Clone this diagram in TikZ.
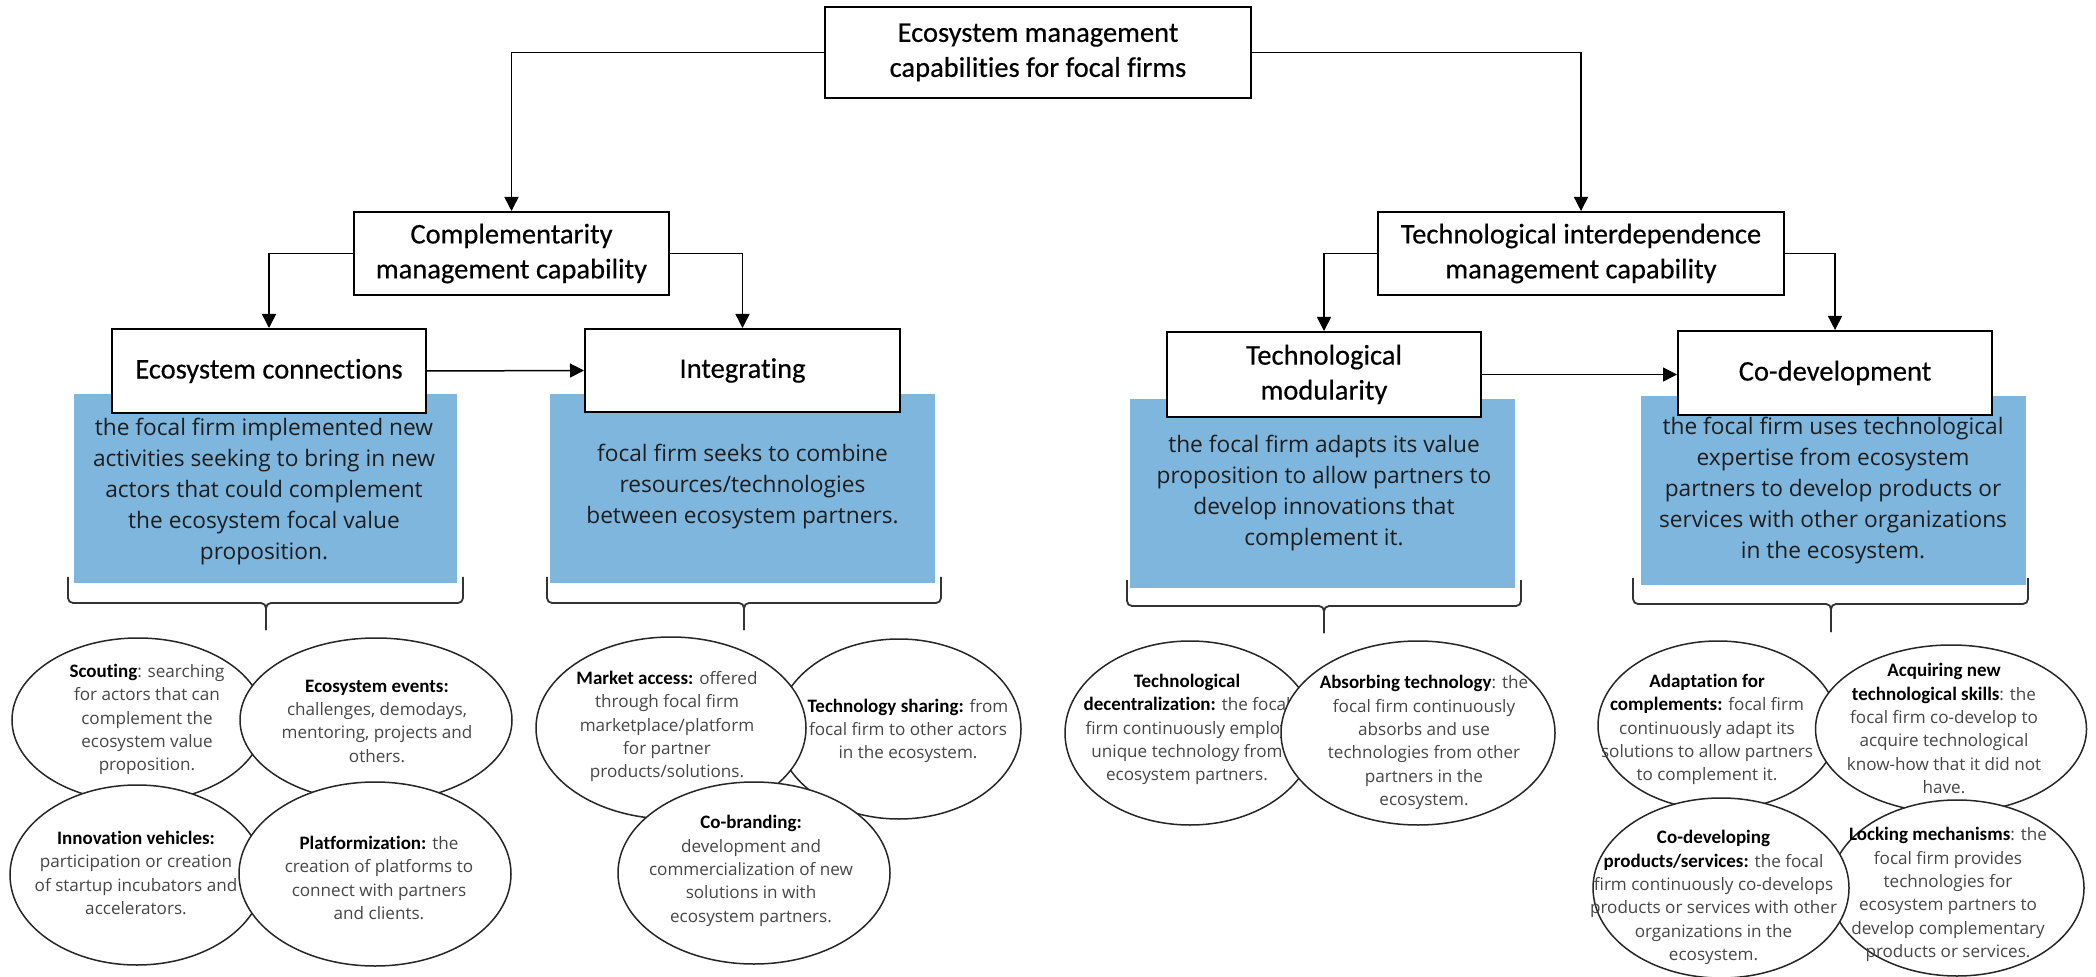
\documentclass[tikz,border=0pt]{standalone}
\usepackage{fontspec}
\setmainfont{Carlito}[Ligatures=NoCommon]
\newfontfamily\bodyfam{Open Sans}[Ligatures=NoCommon]
\newfontfamily\headfam{Carlito}[Ligatures=NoCommon,FakeBold=0.4]
\usetikzlibrary{arrows.meta,shapes.geometric}
\definecolor{panelblue}{RGB}{127,182,221}
\definecolor{bodygray}{RGB}{70,70,70}
\definecolor{paneltext}{RGB}{30,30,30}
% bold Calibri-like lead-in inside the bubbles
\newcommand{\lab}[1]{{\rmfamily\bfseries\fontsize{9.5pt}{11.67pt}\selectfont\color{black}#1}}

\begin{document}
\begin{tikzpicture}[x=0.5pt, y=-0.5pt,
  titlebox/.style={draw=black, line width=1pt, fill=white, inner sep=0pt, align=center,
    font=\headfam\fontsize{14.25pt}{17.5pt}\selectfont},
  panel/.style={fill=panelblue, draw=none, inner sep=0pt},
  paneltxt/.style={align=center, inner sep=0pt, text=paneltext,
    font=\bodyfam\fontsize{11.35pt}{15.5pt}\selectfont},
  conn/.style={draw=black, line width=0.75pt, -{Triangle[length=7pt,width=7pt]}},
  bracket/.style={draw=black!80, line width=0.9pt, rounded corners=2.5pt},
  bubble/.style={ellipse, draw=black!85, line width=0.75pt, fill=white, inner sep=0pt},
  bubtxt/.style={align=center, inner sep=0pt, text=bodygray,
    font=\bodyfam\fontsize{8.55pt}{11.67pt}\selectfont}]

\useasboundingbox (0,0) rectangle (2096,977);

% blue description panels (behind the capability boxes)
\node[panel, minimum width=191.5pt, minimum height=94.5pt] (p1) at (265.5,488.5) {};
\node[panel, minimum width=192.5pt, minimum height=94.5pt] (p2) at (742.5,488.5) {};
\node[panel, minimum width=192.5pt, minimum height=94.5pt] (p3) at (1322.5,493.5) {};
\node[panel, minimum width=192.5pt, minimum height=94.5pt] (p4) at (1833.5,490.5) {};

\node[paneltxt] (t1) at (264,492) {the focal firm implemented new\\activities seeking to bring in new\\actors that could complement\\the ecosystem focal value\\proposition.};
\node[paneltxt] (t2) at (742.5,487) {focal firm seeks to combine\\resources/technologies\\between ecosystem partners.};
\node[paneltxt] (t3) at (1324,493) {the focal firm adapts its value\\proposition to allow partners to\\develop innovations that\\complement it.};
\node[paneltxt] (t4) at (1833,491) {the focal firm uses technological\\expertise from ecosystem\\partners to develop products or\\services with other organizations\\in the ecosystem.};

% capability boxes
\node[titlebox, minimum width=213pt, minimum height=45.5pt] (top) at (1038,52.5) {Ecosystem management\\capabilities for focal firms};
\node[titlebox, minimum width=157.5pt, minimum height=41.5pt] (comp) at (511.5,253.5) {Complementarity\\management capability};
\node[titlebox, minimum width=203pt, minimum height=41.5pt] (tech) at (1581,253.5) {Technological interdependence\\management capability};
\node[titlebox, minimum width=157pt, minimum height=42pt] (econ) at (269,371) {Ecosystem connections};
\node[titlebox, minimum width=157.5pt, minimum height=41.5pt] (integ) at (742.5,370.5) {Integrating};
\node[titlebox, minimum width=157pt, minimum height=42.5pt] (modu) at (1324,374.5) {Technological\\modularity};
\node[titlebox, minimum width=157pt, minimum height=42pt] (codev) at (1835,373) {Co-development};

% hierarchy connectors
\draw[conn] (top.west) -| (comp.north);
\draw[conn] (top.east) -| (tech.north);
\draw[conn] (comp.west) -| (econ.north);
\draw[conn] (comp.east) -| (integ.north);
\draw[conn] (tech.west) -| (modu.north);
\draw[conn] (tech.east) -| (codev.north);
\draw[conn] (econ.east) -- (integ.west);
\draw[conn] (modu.east) -- (modu.east -| codev.west);

% braces under the panels
\draw[bracket] (68,577) |- (266,603) -- (266,630);
\draw[bracket] (463,577) |- (266,603) -- (266,630);
\draw[bracket] (547,577) |- (744,603) -- (744,630);
\draw[bracket] (941,577) |- (744,603) -- (744,630);
\draw[bracket] (1127,580) |- (1324,606) -- (1324,633);
\draw[bracket] (1521,580) |- (1324,606) -- (1324,633);
\draw[bracket] (1633,578) |- (1831,604) -- (1831,632);
\draw[bracket] (2028,578) |- (1831,604) -- (1831,632);

% ecosystem connections bubbles
\node[bubble, minimum width=126pt, minimum height=82pt] (sc) at (138,720) {};
\node[bubtxt] (sct) at (147,719.5) {\lab{Scouting}: searching\\for actors that can\\complement the\\ecosystem value\\proposition.};
\node[bubble, minimum width=136pt, minimum height=82pt] (ee) at (376,720) {};
\node[bubtxt] (eet) at (377,721) {\lab{Ecosystem events:}\\challenges, demodays,\\mentoring, projects and\\others.};
\node[bubble, minimum width=127pt, minimum height=90pt] (iv) at (137,875) {};
\node[bubtxt] (ivt) at (136,873) {\lab{Innovation vehicles:}\\participation or creation\\of startup incubators and\\accelerators.};
\node[bubble, minimum width=136pt, minimum height=92pt] (pl) at (375,874) {};
\node[bubtxt] (plt) at (379,878) {\lab{Platformization:} the\\creation of platforms to\\connect with partners\\and clients.};

% integrating bubbles
\node[bubble, minimum width=122pt, minimum height=90pt] (ts) at (899,729) {};
\node[bubtxt] (tst) at (908,731) {\lab{Technology sharing:} from\\focal firm to other actors\\in the ecosystem.};
\node[bubble, minimum width=135pt, minimum height=91pt] (ma) at (671,728) {};
\node[bubtxt] (mat) at (667,726.5) {\lab{Market access:} offered\\through focal firm\\marketplace/platform\\for partner\\products/solutions.};
\node[bubble, minimum width=136pt, minimum height=91pt] (cb) at (754,873) {};
\node[bubtxt] (cbt) at (751,871) {\lab{Co-branding:}\\development and\\commercialization of new\\solutions in with\\ecosystem partners.};

% technological modularity bubbles
\node[bubble, minimum width=125pt, minimum height=92pt] (td) at (1190,733) {};
\node[bubtxt] (tdt) at (1187,729.5) {\lab{Technological}\\\lab{decentralization:} the focal\\firm continuously employ\\unique technology from\\ecosystem partners.};
\node[bubble, minimum width=137pt, minimum height=92pt] (at) at (1418,733) {};
\node[bubtxt] (att) at (1424,742.5) {\lab{Absorbing technology}: the\\focal firm continuously\\absorbs and use\\technologies from other\\partners in the\\ecosystem.};

% co-development bubbles
\node[bubble, minimum width=120pt, minimum height=84.5pt] (af) at (1718,725.5) {};
\node[bubtxt] (aft) at (1707,729.5) {\lab{Adaptation for}\\\lab{complements:} focal firm\\continuously adapt its\\solutions to allow partners\\to complement it.};
\node[bubble, minimum width=135.5pt, minimum height=84pt] (an) at (1951,729) {};
\node[bubtxt] (ant) at (1944,728.5) {\lab{Acquiring new}\\\lab{technological skills}: the\\focal firm co-develop to\\acquire technological\\know-how that it did not\\have.};
\node[bubble, minimum width=127pt, minimum height=88pt] (lm) at (1957,888) {};
\node[bubtxt] (lmt) at (1948,894.5) {\lab{Locking mechanisms}: the\\focal firm provides\\technologies for\\ecosystem partners to\\develop complementary\\products or services.};
\node[bubble, minimum width=128pt, minimum height=90pt] (cd) at (1721,888) {};
\node[bubtxt] (cdt) at (1713.5,897.5) {\lab{Co-developing}\\\lab{products/services:} the focal\\firm continuously co-develops\\products or services with other\\organizations in the\\ecosystem.};

\end{tikzpicture}
\end{document}
